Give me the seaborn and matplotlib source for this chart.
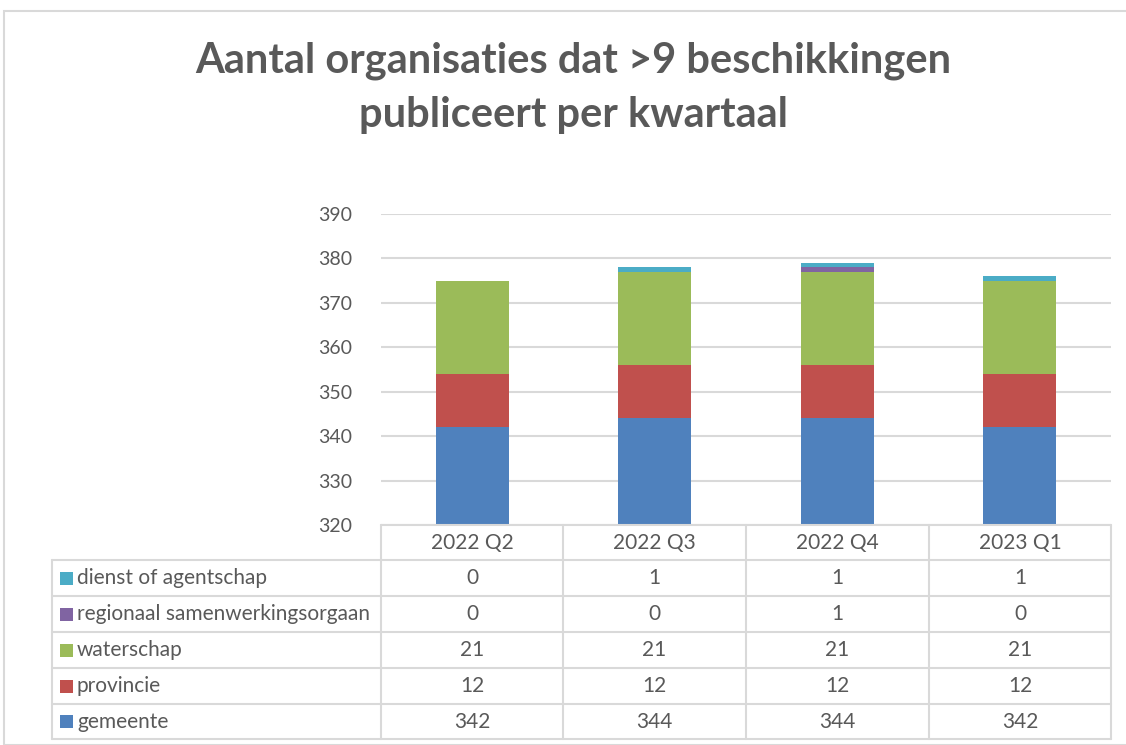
import matplotlib
matplotlib.use("Agg")
import matplotlib.pyplot as plt
from matplotlib.patches import Rectangle
from matplotlib.lines import Line2D
import numpy as np
import seaborn as sns

quarters = ["2022 Q2", "2022 Q3", "2022 Q4", "2023 Q1"]
gemeente = [342, 344, 344, 342]
provincie = [12, 12, 12, 12]
waterschap = [21, 21, 21, 21]
regionaal = [0, 0, 1, 0]
dienst = [0, 1, 1, 1]

series_names = ["gemeente", "provincie", "waterschap",
                "regionaal samenwerkingsorgaan", "dienst of agentschap"]
series_values = [gemeente, provincie, waterschap, regionaal, dienst]
colors = ["#4F81BD", "#C0504D", "#9BBB59", "#8064A2", "#4BACC6"]

title_lines = ["Aantal organisaties dat >9 beschikkingen", "publiceert per kwartaal"]

sns.set_style("white")
plt.rcParams["font.family"] = ["Lato", "DejaVu Sans"]
TXT = "#595959"
GRID = "#D9D9D9"

W, H = 1126, 745
fig = plt.figure(figsize=(W / 100, H / 100), dpi=100)


def fx(px):
    return px / W


def fy(py):
    return 1 - py / H


ax_left, ax_right, ax_top, ax_bot = 381, 1111, 214, 525
ax = fig.add_axes([fx(ax_left), fy(ax_bot), fx(ax_right - ax_left), fy(ax_top) - fy(ax_bot)])

bottom = np.zeros(len(quarters))
for name, vals, c in zip(series_names, series_values, colors):
    sns.barplot(x=quarters, y=vals, bottom=bottom, color=c, width=0.4,
                ax=ax, saturation=1, linewidth=0)
    bottom = bottom + np.array(vals)

ax.set_ylim(320, 390)
ax.set_xlim(-0.5, len(quarters) - 0.5)
ax.set_yticks(range(320, 391, 10))
ax.yaxis.grid(True, color=GRID, linewidth=1.5)
ax.set_axisbelow(True)
for s in ax.spines.values():
    s.set_visible(False)
ax.set_xticks([])
ax.tick_params(axis="y", length=0, labelsize=14, labelcolor=TXT, pad=21)
ax.set_xlabel("")
ax.set_ylabel("")

# title, two lines placed separately to match the spacing
for line, ty in zip(title_lines, [61, 115]):
    fig.text(0.509, fy(ty), line, ha="center", va="center", fontsize=30,
             fontweight="bold", color=TXT)

# outer chart border
fig.add_artist(Rectangle((fx(4), fy(745)), fx(1200), fy(11) - fy(745),
                         fill=False, edgecolor=GRID, linewidth=1.5,
                         transform=fig.transFigure))

# data table
col_x = [381, 563, 746, 929, 1111]
row_y = [525, 560, 596, 632, 668, 704, 739]
lab_left = 52
FS = 15


def hline(y, x0, x1):
    fig.add_artist(Line2D([fx(x0), fx(x1)], [fy(y), fy(y)], color=GRID,
                          linewidth=1.5, transform=fig.transFigure))


def vline(x, y0, y1):
    fig.add_artist(Line2D([fx(x), fx(x)], [fy(y0), fy(y1)], color=GRID,
                          linewidth=1.5, transform=fig.transFigure))


hline(row_y[0], col_x[0], col_x[-1])
for y in row_y[1:]:
    hline(y, lab_left, col_x[-1])
for x in col_x:
    vline(x, row_y[0], row_y[-1])
vline(lab_left, row_y[1], row_y[-1])

for i, q in enumerate(quarters):
    cx = (col_x[i] + col_x[i + 1]) / 2
    fig.text(fx(cx), fy((row_y[0] + row_y[1]) / 2), q, ha="center", va="center",
             fontsize=FS, color=TXT)

table_order = list(range(len(series_names)))[::-1]
for r, si in enumerate(table_order):
    cy = (row_y[r + 1] + row_y[r + 2]) / 2
    fig.add_artist(Rectangle((fx(60), fy(cy + 6.5)), fx(13), fy(0) - fy(13),
                             facecolor=colors[si], edgecolor="none",
                             transform=fig.transFigure))
    fig.text(fx(77), fy(cy), series_names[si], ha="left", va="center",
             fontsize=FS, color=TXT)
    for i, v in enumerate(series_values[si]):
        cx = (col_x[i] + col_x[i + 1]) / 2
        fig.text(fx(cx), fy(cy), str(v), ha="center", va="center",
                 fontsize=FS, color=TXT)

fig.savefig("out.png", dpi=100)
